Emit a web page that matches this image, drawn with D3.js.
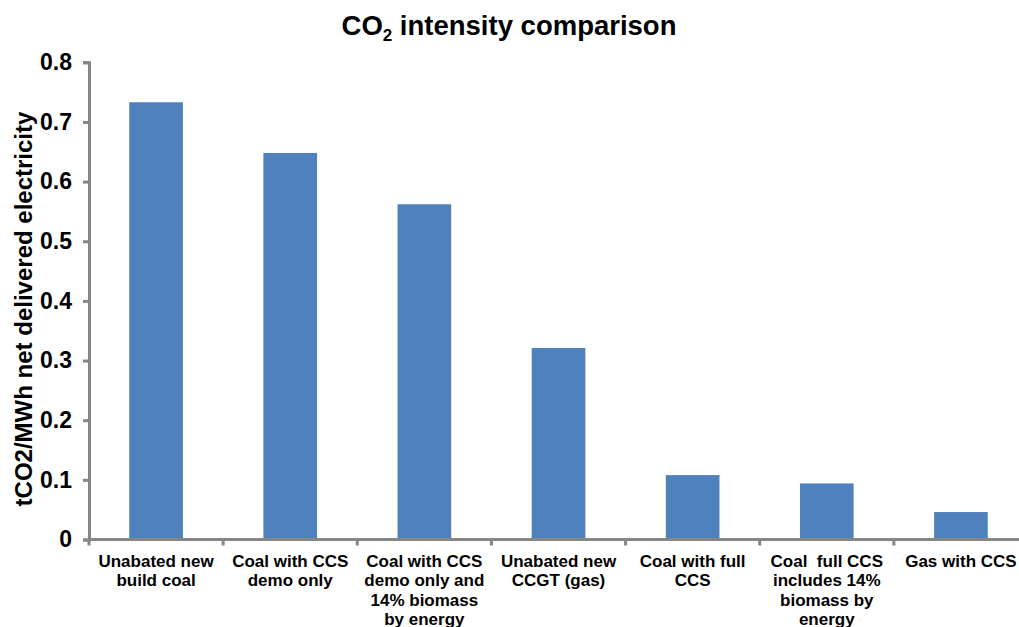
<!DOCTYPE html>
<html><head><meta charset="utf-8">
<script src="https://cdn.jsdelivr.net/npm/d3@7"></script>
<style>body{margin:0;background:#fff}text{font-family:Arial,"Liberation Sans",sans-serif;font-weight:bold;fill:#000}</style>
</head><body><svg id="c" width="1019" height="627"></svg>
<script>
const categories = [
  ["Unabated new","build coal"],
  ["Coal with CCS","demo only"],
  ["Coal with CCS","demo only and","14% biomass","by energy"],
  ["Unabated new","CCGT (gas)"],
  ["Coal with full","CCS"],
  ["Coal  full CCS","includes 14%","biomass by","energy"],
  ["Gas with CCS"]
];
const values = [0.733, 0.648, 0.562, 0.321, 0.108, 0.094, 0.046];
const yTicks = [0, 0.1, 0.2, 0.3, 0.4, 0.5, 0.6, 0.7, 0.8];
const yTickLabels = ["0","0.1","0.2","0.3","0.4","0.5","0.6","0.7","0.8"];

const svg = d3.select("#c");
const x0 = 89, x1 = 1028, yTop = 62.3, yBot = 539.5;
const x = d3.scaleBand().domain(d3.range(categories.length)).range([x0, x1]).paddingInner(0.6).paddingOuter(0.3);
const y = d3.scaleLinear().domain([0, 0.8]).range([yBot, yTop]);

svg.selectAll("rect.bar").data(values).join("rect")
  .attr("x", (d,i)=>x(i)).attr("width", x.bandwidth())
  .attr("y", d=>y(d)).attr("height", d=>y(0)-y(d))
  .attr("fill", "#4F81BD");

// y axis
const yAxis = d3.axisLeft(y).tickValues(yTicks).tickFormat((d,i)=>yTickLabels[i]).tickSize(6).tickPadding(11);
const gy = svg.append("g").attr("transform", `translate(${x0},0)`).call(yAxis);
gy.select(".domain").attr("stroke", "#868686").attr("stroke-width", 3);
gy.selectAll(".tick line").attr("stroke", "#868686").attr("stroke-width", 3);
gy.selectAll(".tick text").style("font-size", "23px").style("font-family", "Arial, 'Liberation Sans', sans-serif").style("font-weight","bold").attr("fill", "#000");

// x axis
const xEdge = d3.scaleLinear().domain([0, categories.length]).range([x0, x1]);
svg.append("line").attr("x1", x0).attr("x2", x1).attr("y1", yBot).attr("y2", yBot).attr("stroke", "#868686").attr("stroke-width", 3);
svg.selectAll("line.xt").data(d3.range(categories.length + 1)).join("line")
  .attr("x1", d=>xEdge(d)).attr("x2", d=>xEdge(d)).attr("y1", yBot).attr("y2", yBot+6)
  .attr("stroke", "#868686").attr("stroke-width", 3);

const xl = svg.selectAll("text.xl").data(categories).join("text")
  .attr("text-anchor", "middle").style("font-size", "17px").style("white-space", "pre")
  .attr("transform", (d,i)=>`translate(${x(i)+x.bandwidth()/2},567)`);
xl.selectAll("tspan").data(d=>d).join("tspan").attr("x", 0).attr("dy", (d,j)=>j===0?0:19.3).text(d=>d);

// title
const t = svg.append("text").attr("x", 509).attr("y", 35).attr("text-anchor", "middle").style("font-size", "27.5px");
t.append("tspan").text("CO");
t.append("tspan").attr("dy", 6).style("font-size", "17px").text("2");
t.append("tspan").attr("dy", -6).text(" intensity comparison");

// y title
svg.append("text").attr("transform", "translate(32,309) rotate(-90)").attr("text-anchor", "middle")
  .style("font-size", "24px").text("tCO2/MWh net delivered electricity");
</script></body></html>
